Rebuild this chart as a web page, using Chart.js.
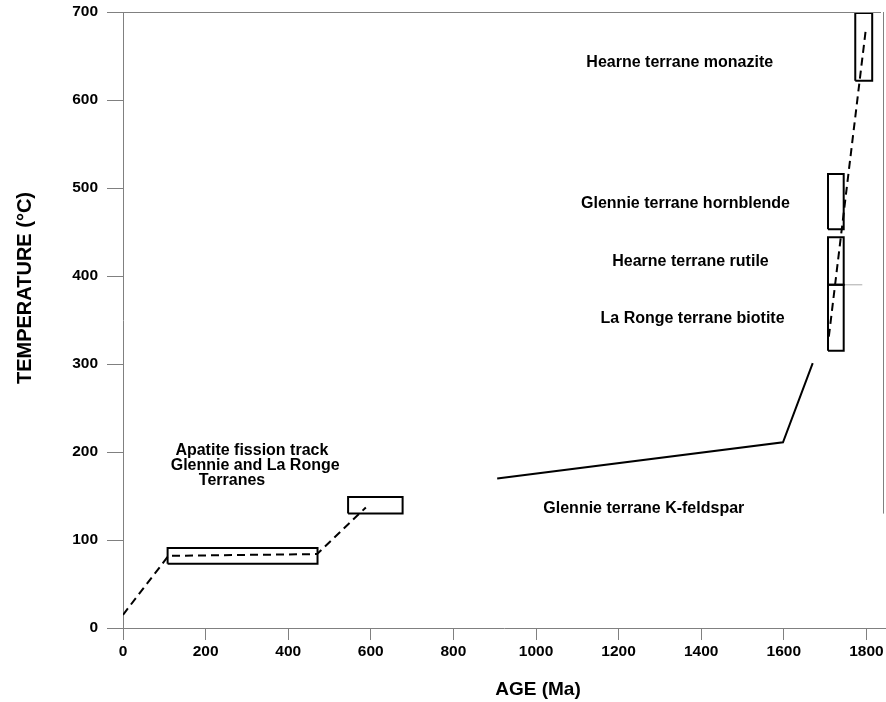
<!DOCTYPE html>
<html>
<head>
<meta charset="utf-8">
<script src="https://cdn.jsdelivr.net/npm/chart.js@4"></script>
<style>
  html, body { margin: 0; padding: 0; background: #fff; }
  #wrap { width: 886px; height: 702px; }
</style>
</head>
<body>
<div id="wrap"><canvas id="chart"></canvas></div>
<script>
// age (Ma) / temperature (°C) values
const xTicks = [0, 200, 400, 600, 800, 1000, 1200, 1400, 1600, 1800];
const yTicks = [0, 100, 200, 300, 400, 500, 600, 700];

// boxes: [ageMin, ageMax, tempMin, tempMax]
const apatiteBox = [108, 471, 73, 91];
const apatiteBox2 = [545, 677, 130, 149];
const hornblendeBox = [1707, 1745, 453, 516];
const rutileBox = [1707, 1745, 390, 444];
const biotiteBox = [1707, 1745, 315, 390];
const monaziteBox = [1773, 1814, 622, 699];

// paths: [age, temp]
const apatitePath = [[0, 15], [110, 82], [470, 84], [588, 137]];
const coolingPath = [[1709, 331], [1799, 682]];
const feldsparPath = [[906, 170], [1598, 211], [1670, 301]];
const greyLine = [[1745, 390], [1790, 390]];

// annotations: [text, age, temp]
const notes = [
  ["Hearne terrane monazite", 1348, 643],
  ["Glennie terrane hornblende", 1362, 482],
  ["Hearne terrane rutile", 1374, 416],
  ["La Ronge terrane biotite", 1379, 352],
  ["Apatite fission track", 312, 202],
  ["Glennie and La Ronge", 320, 184],
  ["Terranes", 264, 168],
  ["Glennie terrane K-feldspar", 1261, 136]
];

const FONT = "'Liberation Sans', Arial, Helvetica, sans-serif";
const GREY = "#808080";

function boxPoints(b) {
  return [
    { x: b[0], y: b[2] }, { x: b[1], y: b[2] },
    { x: b[1], y: b[3] }, { x: b[0], y: b[3] }, { x: b[0], y: b[2] }
  ];
}
function pathPoints(p) {
  return p.map(function (d) { return { x: d[0], y: d[1] }; });
}

const lineBase = {
  showLine: true, pointRadius: 0, borderColor: "#000", borderWidth: 2,
  tension: 0, fill: false
};

const datasets = [];
[apatiteBox, apatiteBox2, hornblendeBox, rutileBox, biotiteBox, monaziteBox].forEach(function (b) {
  datasets.push(Object.assign({}, lineBase, { data: boxPoints(b) }));
});
datasets.push(Object.assign({}, lineBase, { data: pathPoints(apatitePath), borderDash: [8, 5] }));
datasets.push(Object.assign({}, lineBase, { data: pathPoints(coolingPath), borderDash: [8, 5] }));
datasets.push(Object.assign({}, lineBase, { data: pathPoints(feldsparPath) }));
datasets.push(Object.assign({}, lineBase, { data: pathPoints(greyLine), borderColor: "#aaa", borderWidth: 1 }));

const decorations = {
  id: "decorations",
  afterDraw: function (chart) {
    const ctx = chart.ctx;
    const a = chart.chartArea;
    const ys = chart.scales.y;
    ctx.save();
    // top and right frame lines
    ctx.strokeStyle = GREY;
    ctx.lineWidth = 1;
    ctx.beginPath();
    ctx.moveTo(a.left, a.top + 0.5);
    ctx.lineTo(a.right - 4, a.top + 0.5);
    ctx.moveTo(a.right - 1.5, a.top);
    ctx.lineTo(a.right - 1.5, ys.getPixelForValue(130));
    ctx.stroke();

    // annotations
    ctx.fillStyle = "#000";
    ctx.font = "bold 16px " + FONT;
    ctx.textAlign = "center";
    ctx.textBaseline = "middle";
    notes.forEach(function (n) {
      ctx.fillText(n[0], chart.scales.x.getPixelForValue(n[1]), ys.getPixelForValue(n[2]));
    });

    // axis titles
    ctx.font = "bold 19px " + FONT;
    ctx.fillText("AGE (Ma)", 538, 690);
    ctx.translate(25, 288);
    ctx.rotate(-Math.PI / 2);
    ctx.font = "bold 20px " + FONT;
    ctx.fillText("TEMPERATURE (°C)", 0, 0);
    ctx.restore();
  }
};

new Chart(document.getElementById("chart"), {
  type: "scatter",
  data: { datasets: datasets },
  options: {
    responsive: true,
    maintainAspectRatio: false,
    animation: false,
    layout: { padding: { left: 0, right: 1, top: 12, bottom: 0 } },
    plugins: { legend: { display: false }, tooltip: { enabled: false } },
    scales: {
      x: {
        type: "linear",
        min: 0,
        max: 1845,
        afterBuildTicks: function (s) { s.ticks = xTicks.map(function (v) { return { value: v }; }); },
        afterFit: function (s) { s.height = 74; s.paddingLeft = 0; s.paddingRight = 0; },
        border: { display: true, color: GREY, width: 1 },
        grid: { drawOnChartArea: false, drawTicks: true, tickLength: 12, color: GREY },
        ticks: {
          padding: 2, color: "#000", maxRotation: 0, autoSkip: false,
          font: { family: FONT, size: 15.5, weight: "bold" },
          callback: function (v) { return String(v); }
        }
      },
      y: {
        type: "linear",
        min: 0,
        max: 700,
        afterBuildTicks: function (s) { s.ticks = yTicks.map(function (v) { return { value: v }; }); },
        afterFit: function (s) { s.width = 123; s.paddingTop = 0; s.paddingBottom = 0; },
        border: { display: true, color: GREY, width: 1 },
        grid: { drawOnChartArea: false, drawTicks: true, tickLength: 16, color: GREY },
        ticks: {
          padding: 9, color: "#000", autoSkip: false,
          font: { family: FONT, size: 15.5, weight: "bold" },
          callback: function (v) { return String(v); }
        }
      }
    }
  },
  plugins: [decorations]
});
</script>
</body>
</html>
